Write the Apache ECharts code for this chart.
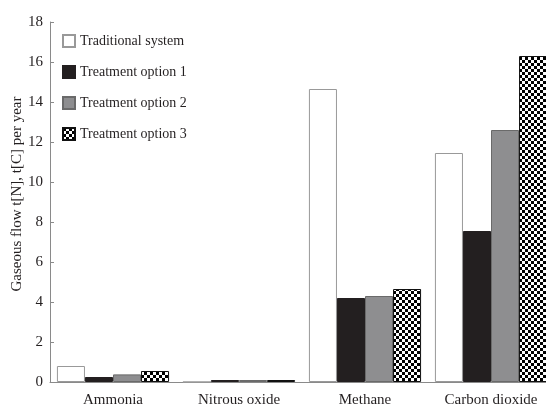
<!DOCTYPE html>
<html><head><meta charset="utf-8">
<script src="https://cdn.jsdelivr.net/npm/echarts@6/dist/echarts.min.js"></script>
<style>html,body{margin:0;padding:0;background:#fff}#c{width:546px;height:405px}</style>
</head><body><div id="c"></div>
<script>
const categories = ['Ammonia', 'Nitrous oxide', 'Methane', 'Carbon dioxide'];
const seriesNames = ['Traditional system', 'Treatment option 1', 'Treatment option 2', 'Treatment option 3'];
const traditional = [0.8, 0.0, 14.65, 11.45];
const option1 = [0.25, 0.1, 4.2, 7.55];
const option2 = [0.38, 0.1, 4.3, 12.6];
const option3 = [0.55, 0.1, 4.65, 16.3];
const yTicks = [0, 2, 4, 6, 8, 10, 12, 14, 16, 18];

const cv = document.createElement('canvas');
cv.width = 6; cv.height = 6;
const ctx = cv.getContext('2d');
ctx.fillStyle = '#fff'; ctx.fillRect(0, 0, 6, 6);
ctx.fillStyle = '#000'; ctx.fillRect(0, 0, 3, 3); ctx.fillRect(3, 3, 3, 3);
const checker = { image: cv, repeat: 'repeat' };

const font = 'Liberation Serif';
const styles = [
  { color: '#ffffff', borderColor: '#999999', borderWidth: 1 },
  { color: '#231f20', borderColor: '#231f20', borderWidth: 1 },
  { color: '#8e8e90', borderColor: '#6a6a6a', borderWidth: 1 },
  { color: checker, borderColor: '#111111', borderWidth: 1 }
];
const values = [traditional, option1, option2, option3];

const chart = echarts.init(document.getElementById('c'), null, { renderer: 'canvas' });
chart.setOption({
  animation: false,
  backgroundColor: '#fff',
  grid: { left: 50, top: 22, width: 504, height: 360, containLabel: false, outerBoundsMode: 'none' },
  legend: {
    orient: 'vertical', left: 57, top: 29, itemGap: 17, itemWidth: 12, itemHeight: 12,
    icon: 'rect',
    textStyle: { fontFamily: font, fontSize: 14, color: '#231f20' },
    data: seriesNames
  },
  xAxis: {
    type: 'category', data: categories,
    axisLine: { lineStyle: { color: '#8a8a8a', width: 1 } },
    axisTick: { inside: true, length: 4, lineStyle: { color: '#8a8a8a' } },
    axisLabel: { fontFamily: font, fontSize: 15, color: '#231f20', margin: 11, interval: 0 }
  },
  yAxis: {
    type: 'value', min: 0, max: 18, interval: 2,
    name: 'Gaseous flow t[N], t[C] per year', nameLocation: 'middle', nameGap: 25,
    nameMoveOverlap: false,
    nameTextStyle: { fontFamily: font, fontSize: 15, color: '#231f20', padding: [0, 0, 0, 16] },
    axisLine: { show: true, lineStyle: { color: '#8a8a8a', width: 1 } },
    axisTick: { show: true, inside: true, length: 4, lineStyle: { color: '#8a8a8a' } },
    splitLine: { show: false },
    axisLabel: { fontFamily: font, fontSize: 15, color: '#231f20', margin: 7,
      customValues: yTicks }
  },
  series: seriesNames.map((n, i) => ({
    name: n, type: 'bar', data: values[i], barGap: '0%', barCategoryGap: '11%',
    itemStyle: styles[i]
  }))
});
</script></body></html>
